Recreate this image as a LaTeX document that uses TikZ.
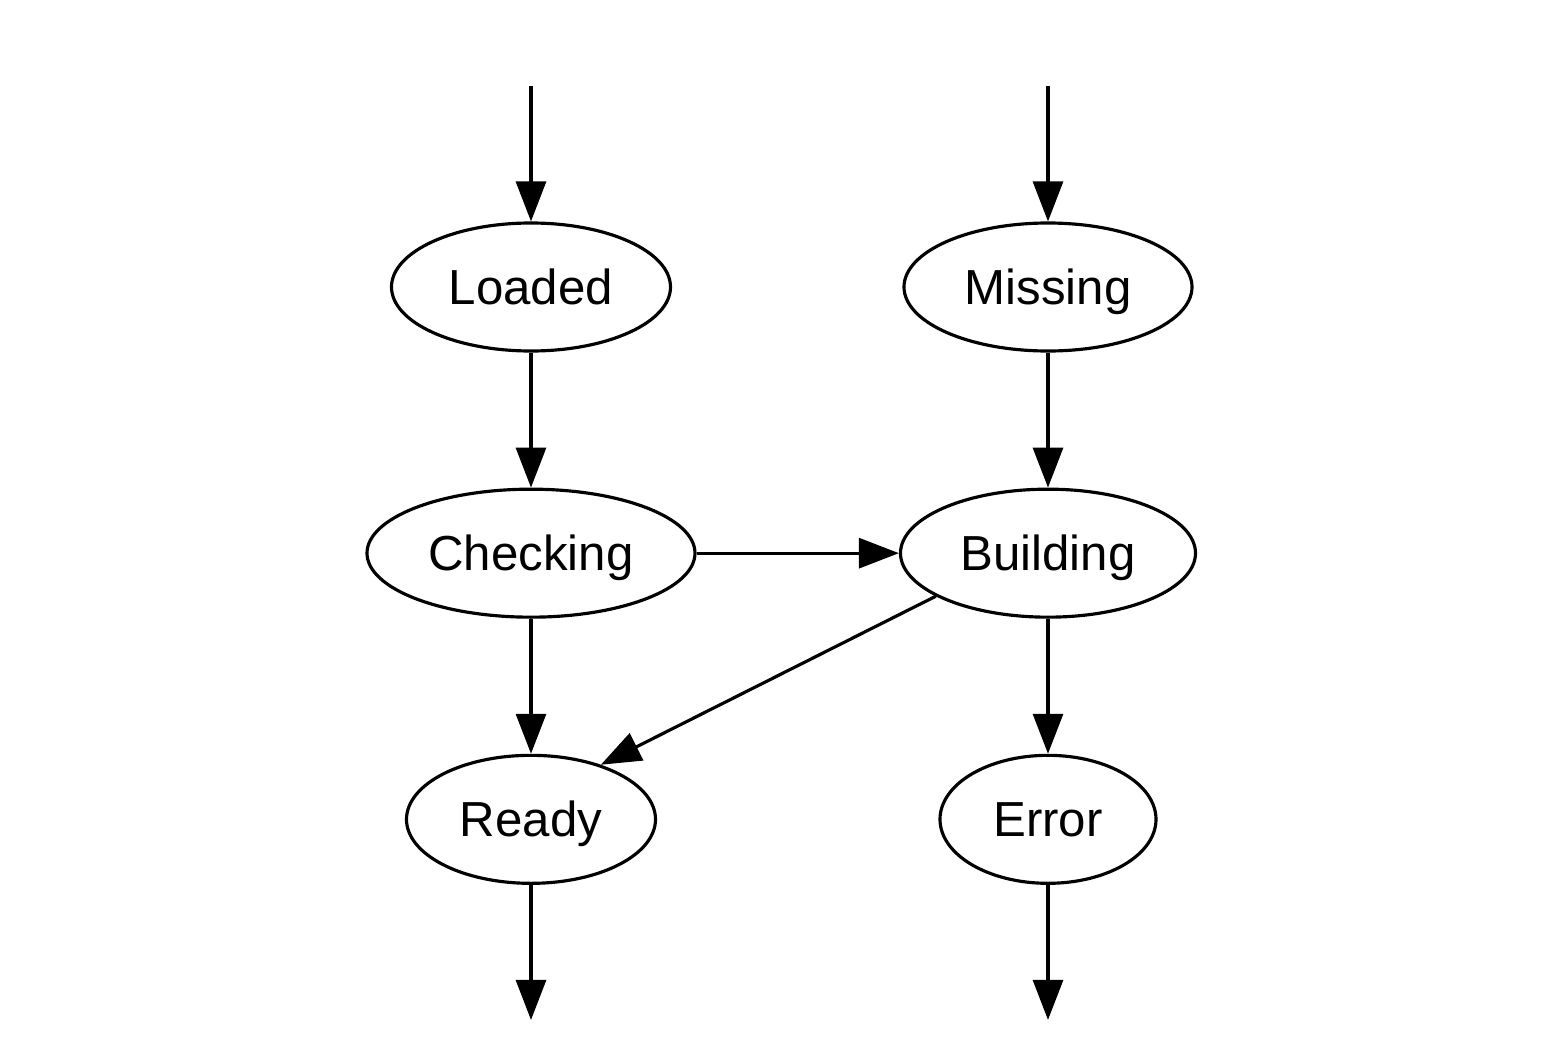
\documentclass[tikz,border=0pt]{standalone}
\usepackage{fontspec}
\setmainfont{Liberation Sans}
\usetikzlibrary{arrows.meta,positioning,shapes.geometric}

\begin{document}
\begin{tikzpicture}[
    node distance=2.7cm and 4.6cm,
    state/.style={draw,ellipse,line width=1.8pt,inner sep=0pt,minimum height=2.56cm,text height=0.92cm,text depth=0.24cm,font=\fontsize{28}{34}\selectfont},
    arr/.style={-{Triangle[length=0.8cm,width=0.6cm]},line width=1.8pt}
]
\useasboundingbox (-10.62,5.74) rectangle (20.5,-15.3);
\node[state,minimum width=5.58cm] (loaded) at (0,0) {Loaded};
\node[state,minimum width=5.76cm] (missing) at (10.34,0) {Missing};
\node[state,minimum width=6.56cm,below=of loaded] (checking) {Checking};
\node[state,minimum width=5.9cm,below=of missing] (building) {Building};
\node[state,minimum width=4.98cm,below=of checking] (ready) {Ready};
\node[state,minimum width=4.32cm,below=of building] (error) {Error};
% loose ends
\coordinate[above=of loaded] (inloaded);
\coordinate[above=of missing] (inmissing);
\coordinate[below=of ready] (outready);
\coordinate[below=of error] (outerror);
\draw[arr] (inloaded)--(loaded);
\draw[arr] (inmissing)--(missing);
\draw[arr] (loaded)--(checking);
\draw[arr] (missing)--(building);
\draw[arr] (checking)--(building);
\draw[arr] (checking)--(ready);
\draw[arr] (building.201)--(ready.38);
\draw[arr] (building)--(error);
\draw[arr] (ready)--(outready);
\draw[arr] (error)--(outerror);
\end{tikzpicture}
\end{document}
